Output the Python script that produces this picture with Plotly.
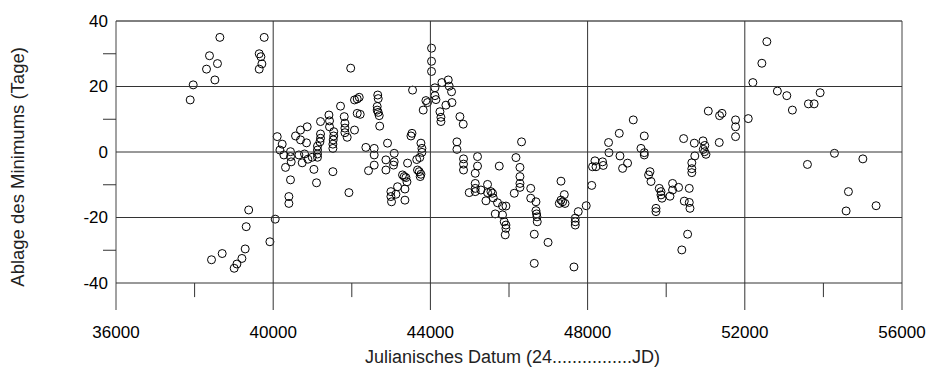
import plotly.graph_objects as go

# Julianisches Datum (24.....JD) and Ablage des Minimums (Tage)
jd_a = [38643, 38379, 38582, 38303, 38516, 37964, 37888,
        39376, 39313, 39287, 39204, 39077, 39007, 38702, 38430, 40051, 39916,
        39771, 39644, 39687, 39712, 39644, 41972]
dev_a = [35.0, 29.4, 27.0, 25.3, 22.0, 20.5, 15.9,
         -17.7, -22.8, -29.6, -32.5, -34.2, -35.5, -31.0, -32.9, -20.5, -27.4,
         35.0, 30.0, 29.1, 26.9, 25.3, 25.6]

jd_b = [40102, 40229, 40171, 40272, 40440, 40440, 40458, 40313, 40440, 40399, 40399,
        40568, 40695, 40865, 40695, 40847, 40654, 40797, 40738, 40883, 40993, 41036,
        41102, 41204, 41204, 41204, 41189, 41127, 41127, 41127, 41127, 41418, 41433,
        41433, 41540, 41540, 41527, 41519, 41519, 41519, 41713, 41807, 41825, 41825,
        41825, 41883, 42069, 41927, 42069, 42138, 42189, 42138, 42214]
dev_b = [4.7, 2.4, 0.6, -0.9, 0.1, -1.4, -3.0, -4.7, -8.5, -13.6, -15.7,
         4.9, 6.7, 7.7, 3.7, 2.8, -0.9, -0.6, -3.3, -2.2, -1.6, -5.3,
         -9.4, 9.3, 5.5, 4.2, 3.1, 1.8, 0.6, -0.6, -1.6, 11.3, 9.5,
         7.7, 6.2, 4.9, 3.7, 2.4, 1.1, -6.0, 14.0, 10.8, 8.8, 7.3,
         5.9, 4.5, 6.7, -12.4, 15.9, 16.2, 16.7, 11.8, 11.5]

jd_c = [42358, 42570, 42570, 42570, 42425,
        42660, 42672, 42646, 42646, 42672, 42697, 42710,
        42909, 43079, 42868, 43079, 43062, 42868, 43419, 43531, 43505, 43759, 43784,
        43784, 43729, 43652, 43672, 43716, 43759, 43741, 43291, 43334, 43377, 43403,
        43164, 43352, 42995, 42995, 43011, 43123, 43352, 43546]
dev_c = [1.4, 1.1, -0.9, -4.0, -5.7,
         17.4, 16.3, 13.9, 12.8, 12.1, 11.1, 7.9,
         2.7, -0.4, -2.4, -3.0, -4.0, -5.5, -3.4, 5.7, 4.9, 2.7, 1.1,
         -0.1, -1.7, -2.3, -5.5, -6.0, -6.8, -7.5, -7.0, -7.5, -7.8, -9.1,
         -10.6, -11.3, -12.1, -13.6, -15.2, -12.9, -14.7, 18.9]

jd_d = [44029, 44029, 44029, 44115, 44115, 44141, 44293, 44454, 44479, 44538,
        43886, 43927, 43817, 44243, 44268, 44268, 44395, 44548, 44751, 44835,
        44675, 44675, 44843, 44843, 44843, 45199, 45199, 45141, 45752, 44988,
        45141, 45141, 45141, 45286, 45454, 45454, 45413, 45540, 45581, 45599,
        45708, 45835, 45922, 45650, 45835, 45878, 45922, 45922, 45904]
dev_d = [31.7, 27.7, 24.6, 19.6, 17.2, 16.0, 21.2, 22.0, 20.1, 18.4,
         15.7, 15.1, 12.8, 12.3, 10.6, 9.3, 14.3, 15.1, 10.8, 8.5,
         3.1, 0.8, -2.1, -3.7, -5.5, -1.4, -4.3, -6.5, -4.3, -12.4,
         -9.6, -11.1, -12.1, -11.6, -9.9, -12.4, -14.9, -12.1, -12.6, -14.0,
         -15.5, -16.5, -16.5, -18.9, -19.2, -21.3, -22.3, -23.3, -25.3]

jd_e = [46319, 46177, 46279, 46279, 46279, 46279, 46134, 46553, 46553, 46686,
        46686, 46701, 46711, 46719, 46643, 46643, 46994, 47323, 47407, 47280,
        47364, 47425, 47323, 47762, 47686, 47686, 47686, 47653, 47965, 48105,
        48126, 48187, 48213, 48381, 48398, 48533, 48543, 48806, 48824, 48890,
        49017, 49162]
dev_e = [3.1, -1.7, -4.7, -7.5, -9.6, -10.8, -12.6, -11.1, -14.1, -15.2,
         -17.9, -18.9, -19.8, -21.3, -25.1, -34.0, -27.6, -8.9, -13.0, -15.7,
         -15.2, -15.7, -14.7, -18.2, -20.2, -21.3, -22.3, -35.1, -16.4, -10.2,
         -4.5, -2.7, -4.5, -3.0, -4.1, 2.9, -0.2, 5.7, -1.2, -5.0,
         -3.4, 9.8]

jd_f = [49442, 49358, 49442, 49442, 49587, 49552, 49613, 49824, 49867, 49867,
        49893, 49740, 49740, 50096, 50162, 50162, 50315, 50587, 50460, 50587,
        50605, 50545, 50397, 50443, 50715, 50728, 50652, 50652, 50652, 50937,
        50982, 50944, 50977, 51012, 51071, 51358, 51419, 51350, 51765, 51765,
        51765, 52088, 52205, 52434, 52561]
dev_f = [4.9, 1.1, -0.2, -0.9, -6.0, -7.0, -9.0, -11.1, -12.1, -13.1,
         -14.1, -17.2, -18.2, -13.5, -9.6, -11.6, -10.8, -11.1, -15.0, -15.4,
         -17.2, -25.1, -29.9, 4.1, 2.7, -1.2, -3.3, -5.1, -6.3, 3.4,
         2.0, 0.8, 0.1, -0.7, 12.5, 11.1, 11.8, 2.9, 9.8, 7.7,
         4.7, 10.2, 21.2, 27.1, 33.7]

jd_g = [52829, 53069, 53211, 53619, 53764, 53917, 53594, 54281, 55004, 54637, 54578, 55341]
dev_g = [18.6, 17.2, 12.8, 14.7, 14.7, 18.1, -3.8, -0.4, -2.1, -12.1, -18.0, -16.4]

jd = jd_a + jd_b + jd_c + jd_d + jd_e + jd_f + jd_g
dev = dev_a + dev_b + dev_c + dev_d + dev_e + dev_f + dev_g

x_labels = [36000, 40000, 44000, 48000, 52000, 56000]
x_grid = [40000, 44000, 48000, 52000]
x_minor = [38000, 42000, 46000, 50000, 54000]
y_labels = [40, 20, 0, -20, -40]
y_grid = [20, 0, -20, -40]
y_minor = [30, 10, -10, -30]

x_title = "Julianisches Datum (24................JD)"
y_title = "Ablage des Minimums (Tage)"

X_MIN, X_MAX = 36000, 56000
Y_MIN, Y_MAX = -48.24, 40

FONT = "Arial, Liberation Sans, sans-serif"

fig = go.Figure()
fig.add_trace(go.Scatter(
    x=jd, y=dev, mode="markers",
    marker=dict(symbol="circle-open", size=8, color="black", line=dict(width=1, color="black")),
    cliponaxis=False, showlegend=False,
))

shapes = []
line_col = "#333333"
# frame: top, left, right
shapes.append(dict(type="line", xref="paper", yref="paper", x0=0, x1=1, y0=1, y1=1,
                   line=dict(color="black", width=1)))
shapes.append(dict(type="line", xref="paper", yref="paper", x0=0, x1=0, y0=0, y1=1,
                   line=dict(color="#444", width=1)))
shapes.append(dict(type="line", xref="paper", yref="paper", x0=1, x1=1, y0=0, y1=1,
                   line=dict(color="#444", width=1)))
for g in x_grid:
    shapes.append(dict(type="line", xref="x", yref="paper", x0=g, x1=g, y0=0, y1=1,
                       line=dict(color=line_col, width=1)))
for g in y_grid:
    shapes.append(dict(type="line", xref="paper", yref="y", x0=0, x1=1, y0=g, y1=g,
                       line=dict(color=line_col, width=1)))
for t in x_minor:
    shapes.append(dict(type="line", xref="x", yref="y", x0=t, x1=t, y0=-40, y1=-44.3,
                       line=dict(color=line_col, width=1)))
tick_len_paper = 13 / 786
for t in y_minor:
    yp = (t - Y_MIN) / (Y_MAX - Y_MIN)
    shapes.append(dict(type="line", xref="paper", yref="paper", x0=-tick_len_paper, x1=0,
                       y0=yp, y1=yp, line=dict(color=line_col, width=1)))

fig.update_layout(
    width=939, height=369,
    margin=dict(l=108, r=45, t=13, b=67, autoexpand=False),
    paper_bgcolor="white", plot_bgcolor="white",
    shapes=shapes,
    font=dict(family=FONT, size=17, color="black"),
    xaxis=dict(range=[X_MIN, X_MAX], tickmode="array", tickvals=x_labels,
               ticktext=[str(v) for v in x_labels], showgrid=False, zeroline=False,
               showline=False, ticks="", ticklabelstandoff=10, automargin=False,
               tickfont=dict(family=FONT, size=17, color="black")),
    yaxis=dict(range=[Y_MIN, Y_MAX], tickmode="array", tickvals=y_labels,
               ticktext=[str(v) for v in y_labels], showgrid=False, zeroline=False,
               showline=False, ticks="", ticklabelstandoff=7, automargin=False,
               tickfont=dict(family=FONT, size=17, color="black")),
    annotations=[
        dict(text=x_title, xref="paper", yref="paper",
             x=0.504, y=-0.163, xanchor="center", yanchor="middle", showarrow=False,
             font=dict(family=FONT, size=18, color="#222")),
        dict(text=y_title, xref="paper", yref="paper",
             x=-0.125, y=0.495, xanchor="center", yanchor="middle", showarrow=False,
             textangle=-90, font=dict(family=FONT, size=18.5, color="#222")),
    ],
)

fig.write_html("out.html")
